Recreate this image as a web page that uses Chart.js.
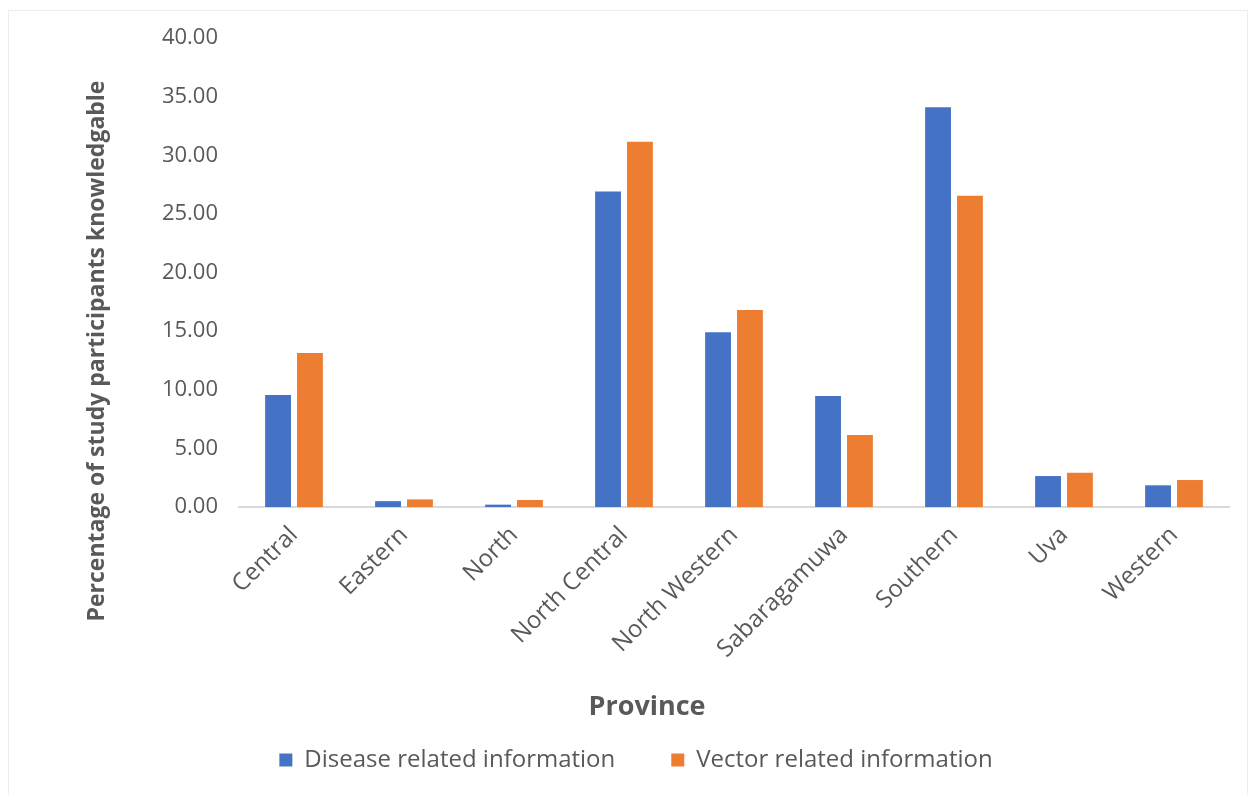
<!DOCTYPE html>
<html>
<head>
<meta charset="utf-8">
<script src="https://cdn.jsdelivr.net/npm/chart.js@4"></script>
<style>
html,body{margin:0;padding:0;background:#fff;}
#wrap{position:relative;width:1248px;height:795px;}
#frame{position:absolute;left:8px;top:10px;width:1240px;height:790px;border:1px solid #ececec;box-sizing:border-box;pointer-events:none;}
canvas{position:absolute;left:0;top:0;}
</style>
</head>
<body>
<div id="wrap"><canvas id="c" width="1248" height="795"></canvas><div id="frame"></div></div>
<script>
const categories = ["Central","Eastern","North","North Central","North Western","Sabaragamuwa","Southern","Uva","Western"];
const diseaseValues = [9.55, 0.50, 0.20, 26.90, 14.90, 9.46, 34.10, 2.64, 1.85];
const vectorValues = [13.13, 0.65, 0.60, 31.15, 16.80, 6.14, 26.55, 2.92, 2.30];
const seriesNames = ["Disease related information","Vector related information"];
const yTickStep = 5;
const yMax = 40;
const yTitle = "Percentage of study participants knowledgable";
const xTitle = "Province";

const TEXT = "#595959";
const FONT = "'Open Sans', 'Noto Sans', sans-serif";
const PAD_LEFT = 43;
const LEG_PAD = 56;
const PAD_BOTTOM = 13;

const titlePlugin = {
  id: 'titles',
  afterDraw(chart){
    const ctx = chart.ctx;
    ctx.save();
    ctx.fillStyle = TEXT;
    ctx.textAlign = 'center';
    ctx.textBaseline = 'middle';
    ctx.font = "bold 23px " + FONT;
    ctx.translate(97, 351);
    ctx.rotate(-Math.PI/2);
    ctx.fillText(yTitle, 0, 0);
    ctx.restore();
    ctx.save();
    ctx.fillStyle = TEXT;
    ctx.textAlign = 'center';
    ctx.textBaseline = 'middle';
    ctx.font = "bold 27px " + FONT;
    ctx.fillText(xTitle, 647, 707);
    ctx.restore();
  }
};

new Chart(document.getElementById('c'), {
  type: 'bar',
  data: {
    labels: categories,
    datasets: [
      {label: seriesNames[0], data: diseaseValues, backgroundColor: '#4472C4', categoryPercentage: 0.58, barPercentage: 0.81},
      {label: seriesNames[1], data: vectorValues, backgroundColor: '#ED7D31', categoryPercentage: 0.58, barPercentage: 0.81}
    ]
  },
  options: {
    responsive: false,
    animation: false,
    devicePixelRatio: 1,
    layout: {padding: {top: 38, left: PAD_LEFT, right: 19, bottom: PAD_BOTTOM}},
    plugins: {
      legend: {
        position: 'bottom',
        labels: {
          color: TEXT,
          font: {family: FONT, size: 24},
          boxWidth: 13, boxHeight: 13,
          padding: LEG_PAD
        }
      },
      tooltip: {enabled: false}
    },
    scales: {
      x: {
        grid: {display: false},
        border: {color: '#d9d9d9', width: 2},
        ticks: {
          color: TEXT, font: {family: FONT, size: 24},
          minRotation: 45, maxRotation: 45, padding: 6
        },
        afterFit(scale){ scale.height = 795 - PAD_BOTTOM - 34 - LEG_PAD - 507; }
      },
      y: {
        min: 0, max: yMax,
        grid: {display: false, drawTicks: false},
        border: {display: false},
        ticks: {
          stepSize: yTickStep,
          color: TEXT, font: {family: FONT, size: 22},
          padding: 21,
          callback: v => Number(v).toFixed(2)
        },
        afterFit(scale){ scale.width = 239 - PAD_LEFT; }
      }
    }
  },
  plugins: [titlePlugin]
});
</script>
</body>
</html>
